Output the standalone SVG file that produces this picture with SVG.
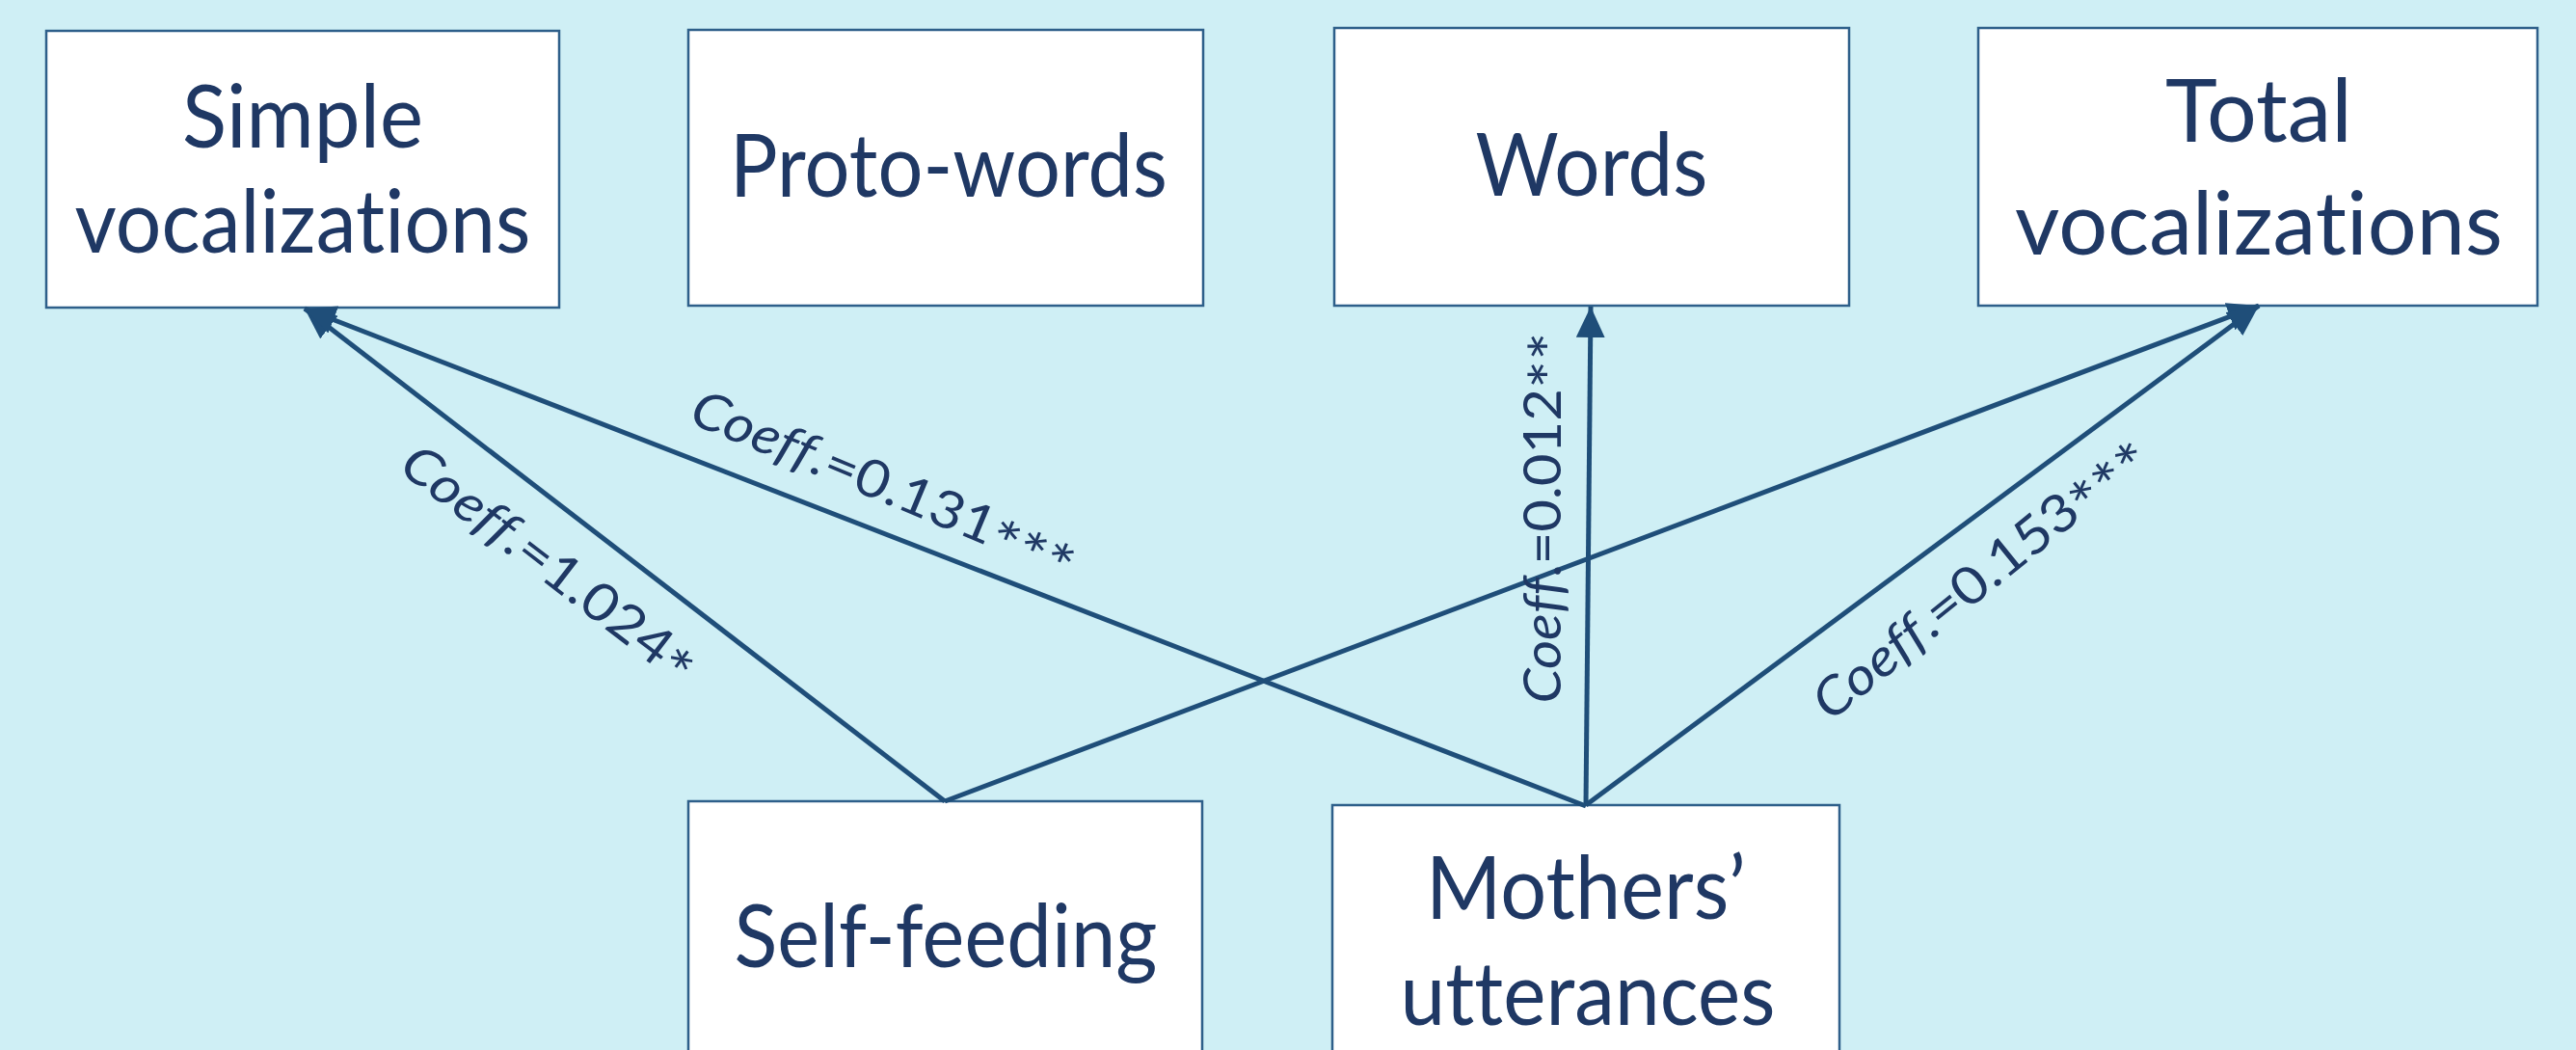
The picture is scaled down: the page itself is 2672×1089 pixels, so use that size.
<svg xmlns="http://www.w3.org/2000/svg" width="2672" height="1089" viewBox="0 0 2672 1089">
<style>
.bg{fill:#CFEFF5}
.box{fill:#FFFFFF;stroke:#2E5F8A;stroke-width:2.5}
.lbl{font-family:Lato,"Liberation Sans",sans-serif;font-size:92px;fill:#1F3864;text-anchor:middle;font-variant-ligatures:none;font-feature-settings:"liga" 0,"clig" 0,"dlig" 0;letter-spacing:0.1px}
.co{font-family:Lato,"Liberation Sans",sans-serif;font-size:54px;fill:#1F3864;text-anchor:middle;dominant-baseline:central;font-variant-ligatures:none}
.ast{font-size:64px}
.ln{stroke:#1F4E79;stroke-width:5;fill:none;marker-end:url(#ah)}
</style>
<defs>
<marker id="ah" markerUnits="userSpaceOnUse" markerWidth="34" markerHeight="30" refX="32" refY="15" orient="auto">
<path d="M0,0 L32,15 L0,30 Z" fill="#1F4E79"/>
</marker>
</defs>
<rect class="bg" x="0" y="0" width="2672" height="1089"/>
<g id="simple">
<rect class="box" x="48" y="32" width="532" height="287"/>
<text class="lbl" x="314" y="153" textLength="250" lengthAdjust="spacingAndGlyphs">Simple</text>
<text class="lbl" x="314" y="262" textLength="473" lengthAdjust="spacingAndGlyphs">vocalizations</text>
</g>
<g id="proto">
<rect class="box" x="714" y="31" width="534" height="286"/>
<text class="lbl" x="984" y="204" textLength="454" lengthAdjust="spacingAndGlyphs">Proto-words</text>
</g>
<g id="words">
<rect class="box" x="1384" y="29" width="534" height="288"/>
<text class="lbl" x="1651" y="203" textLength="241" lengthAdjust="spacingAndGlyphs">Words</text>
</g>
<g id="total">
<rect class="box" x="2052" y="29" width="580" height="288"/>
<text class="lbl" x="2343" y="147" textLength="194" lengthAdjust="spacingAndGlyphs">Total</text>
<text class="lbl" x="2343" y="264" textLength="506" lengthAdjust="spacingAndGlyphs">vocalizations</text>
</g>
<g id="selffeeding">
<rect class="box" x="714" y="831" width="533" height="300"/>
<text class="lbl" x="981" y="1003" textLength="439" lengthAdjust="spacingAndGlyphs">Self-feeding</text>
</g>
<g id="mothers">
<rect class="box" x="1382" y="835" width="526" height="300"/>
<text class="lbl" x="1645" y="953" textLength="332" lengthAdjust="spacingAndGlyphs">Mothers’</text>
<text class="lbl" x="1647" y="1063" textLength="389" lengthAdjust="spacingAndGlyphs">utterances</text>
</g>
<g id="connectors">
<line class="ln" x1="980" y1="831" x2="316" y2="320"/>
<line class="ln" x1="1645" y1="836" x2="316" y2="320"/>
<line class="ln" x1="1645" y1="835" x2="1650" y2="318"/>
<line class="ln" x1="980" y1="831" x2="2343" y2="317"/>
<line class="ln" x1="1645" y1="835" x2="2343" y2="317"/>
<text class="co" transform="translate(571,583) rotate(37.5)" textLength="369" lengthAdjust="spacingAndGlyphs"><tspan font-style="italic">Coeff</tspan>.=1.024<tspan class="ast" dy="10">*</tspan></text>
<text class="co" transform="translate(918,500) rotate(22.5)" textLength="427" lengthAdjust="spacingAndGlyphs"><tspan font-style="italic">Coeff</tspan>.=0.131<tspan class="ast" dy="10">***</tspan></text>
<text class="co" transform="translate(1598,537) rotate(-90)" textLength="385" lengthAdjust="spacingAndGlyphs"><tspan font-style="italic">Coeff</tspan>.=0.012<tspan class="ast" dy="10">**</tspan></text>
<text class="co" transform="translate(2052,598) rotate(-39)" textLength="429" lengthAdjust="spacingAndGlyphs"><tspan font-style="italic">Coeff</tspan>.=0.153<tspan class="ast" dy="10">***</tspan></text>
</g>
</svg>
